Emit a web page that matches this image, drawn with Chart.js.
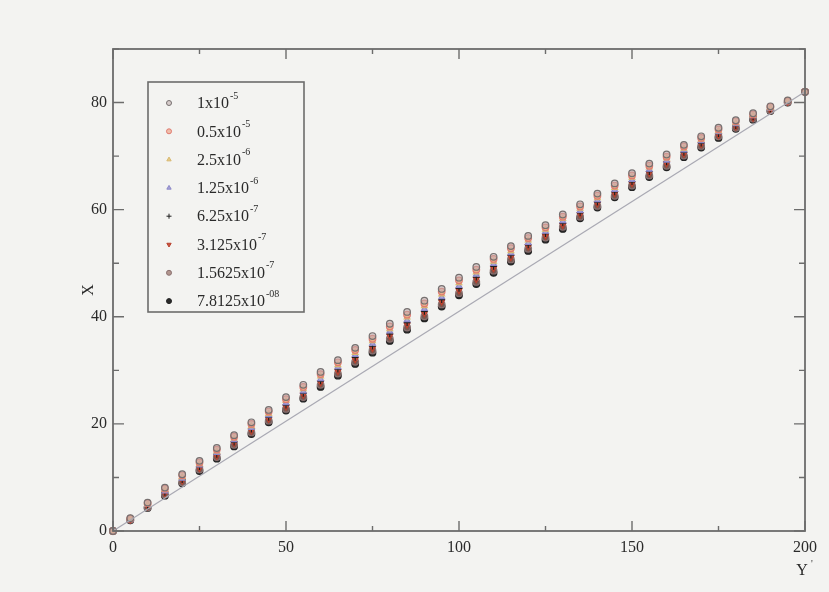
<!DOCTYPE html>
<html>
<head>
<meta charset="utf-8">
<script src="https://cdn.jsdelivr.net/npm/chart.js"></script>
<style>
  body { margin: 0; background: #f3f3f1; }
  #wrap { width: 829px; height: 592px; }
</style>
</head>
<body>
<div id="wrap"><canvas id="chart-convergence" width="829" height="592"></canvas></div>
<script>
// Y' positions shared by every run
const yPrime = [0, 5, 10, 15, 20, 25, 30, 35, 40, 45, 50, 55, 60, 65, 70, 75, 80, 85, 90, 95, 100,
  105, 110, 115, 120, 125, 130, 135, 140, 145, 150, 155, 160, 165, 170, 175, 180, 185, 190, 195, 200];

// X for each time step
const run1e5 = [0, 2.4, 5.3, 8.1, 10.6, 13.1, 15.5, 17.9, 20.3, 22.6, 25.0, 27.3, 29.7, 31.9, 34.2, 36.4, 38.7, 40.9, 43.0, 45.2, 47.3,
  49.3, 51.2, 53.2, 55.1, 57.1, 59.1, 61.0, 63.0, 64.9, 66.8, 68.6, 70.3, 72.1, 73.7, 75.3, 76.7, 78.0, 79.3, 80.4, 82.0];
const run5e6 = [0, 2.3, 5.2, 7.9, 10.4, 12.8, 15.2, 17.6, 20.0, 22.3, 24.6, 26.9, 29.3, 31.5, 33.8, 35.9, 38.2, 40.4, 42.5, 44.7, 46.8,
  48.8, 50.8, 52.8, 54.7, 56.7, 58.7, 60.6, 62.6, 64.5, 66.4, 68.2, 69.9, 71.8, 73.4, 75.0, 76.5, 77.8, 79.2, 80.3, 82.0];
const run25e7 = [0, 2.3, 5.0, 7.7, 10.1, 12.5, 14.9, 17.3, 19.6, 21.9, 24.3, 26.5, 28.9, 31.0, 33.3, 35.5, 37.7, 39.9, 42.0, 44.2, 46.3,
  48.3, 50.3, 52.3, 54.3, 56.3, 58.3, 60.2, 62.2, 64.1, 66.0, 67.9, 69.6, 71.4, 73.1, 74.7, 76.2, 77.6, 79.0, 80.3, 82.0];
const run125e8 = [0, 2.2, 4.9, 7.4, 9.8, 12.3, 14.6, 17.0, 19.3, 21.6, 23.9, 26.1, 28.4, 30.6, 32.9, 35.0, 37.3, 39.4, 41.5, 43.7, 45.8,
  47.9, 49.9, 51.9, 53.8, 55.9, 57.9, 59.8, 61.8, 63.7, 65.6, 67.5, 69.2, 71.1, 72.8, 74.5, 76.0, 77.5, 78.9, 80.2, 82.0];
const run625e9 = [0, 2.2, 4.7, 7.2, 9.6, 12.0, 14.3, 16.6, 19.0, 21.2, 23.5, 25.7, 28.0, 30.2, 32.4, 34.5, 36.8, 38.9, 41.0, 43.2, 45.3,
  47.4, 49.4, 51.5, 53.4, 55.5, 57.5, 59.4, 61.4, 63.3, 65.2, 67.1, 68.9, 70.7, 72.4, 74.2, 75.7, 77.3, 78.8, 80.2, 82.0];
const run3125e10 = [0, 2.1, 4.6, 7.0, 9.4, 11.7, 14.0, 16.4, 18.7, 20.9, 23.2, 25.4, 27.7, 29.8, 32.0, 34.1, 36.4, 38.5, 40.6, 42.8, 44.9,
  47.0, 49.0, 51.1, 53.1, 55.1, 57.1, 59.1, 61.1, 63.0, 64.9, 66.8, 68.6, 70.4, 72.2, 73.9, 75.5, 77.1, 78.6, 80.1, 82.0];
const run15625e11 = [0, 2.1, 4.4, 6.8, 9.1, 11.5, 13.8, 16.1, 18.4, 20.6, 22.8, 25.0, 27.3, 29.4, 31.6, 33.7, 35.9, 38.0, 40.1, 42.3, 44.4,
  46.5, 48.6, 50.7, 52.7, 54.8, 56.8, 58.7, 60.7, 62.6, 64.5, 66.4, 68.2, 70.1, 71.9, 73.7, 75.3, 77.0, 78.5, 80.1, 82.0];
const run78125e12 = [0, 2.0, 4.3, 6.6, 8.9, 11.2, 13.5, 15.8, 18.1, 20.3, 22.5, 24.7, 26.9, 29.0, 31.2, 33.3, 35.5, 37.6, 39.7, 41.9, 44.0,
  46.1, 48.2, 50.3, 52.3, 54.4, 56.4, 58.4, 60.4, 62.3, 64.2, 66.1, 67.9, 69.8, 71.6, 73.4, 75.1, 76.8, 78.4, 80.0, 82.0];

// reference straight line
const refLineX = [0, 200];
const refLineY = [0, 82];

// legend text: mantissa part and exponent
const legendBase = ['1x10', '0.5x10', '2.5x10', '1.25x10', '6.25x10', '3.125x10', '1.5625x10', '7.8125x10'];
const legendExp = ['-5', '-5', '-6', '-6', '-7', '-7', '-7', '-08'];

const xTicks = [0, 50, 100, 150, 200];
const yTicks = [0, 20, 40, 60, 80];

const runs = [run1e5, run5e6, run25e7, run125e8, run625e9, run3125e10, run15625e11, run78125e12];
const styles = [
  { pointStyle: 'circle', radius: 3.3, rotation: 0, border: '#767070', fill: 'rgba(190,170,170,0.55)' },
  { pointStyle: 'circle', radius: 3.3, rotation: 0, border: '#e07a70', fill: 'rgba(238,165,140,0.7)' },
  { pointStyle: 'triangle', radius: 3.3, rotation: 0, border: '#d8b870', fill: '#e6cc88' },
  { pointStyle: 'triangle', radius: 3.3, rotation: 0, border: '#8a86c8', fill: '#a8a4d8' },
  { pointStyle: 'cross', radius: 3.3, rotation: 0, border: '#1e1e1e', fill: '#1e1e1e' },
  { pointStyle: 'triangle', radius: 3.3, rotation: 180, border: '#b8402e', fill: '#c85440' },
  { pointStyle: 'circle', radius: 3.3, rotation: 0, border: '#8a7070', fill: 'rgba(150,110,100,0.7)' },
  { pointStyle: 'circle', radius: 3.3, rotation: 0, border: '#222222', fill: '#2a2a2a' }
];

const SERIF = "'Liberation Serif', 'DejaVu Serif', serif";
const FRAME = '#6c6c6c';

const datasets = [{
  type: 'line',
  label: 'ref',
  data: refLineX.map((x, i) => ({ x: x, y: refLineY[i] })),
  borderColor: '#a9a9b3',
  borderWidth: 1.2,
  pointRadius: 0,
  showLine: true,
  fill: false,
  clip: false
}];
runs.forEach((run, k) => {
  const s = styles[k];
  datasets.push({
    label: legendBase[k] + legendExp[k],
    data: yPrime.map((x, i) => ({ x: x, y: run[i] })),
    pointStyle: s.pointStyle,
    pointRotation: s.rotation,
    pointRadius: s.radius,
    pointBorderWidth: 1.2,
    pointBorderColor: s.border,
    pointBackgroundColor: s.fill,
    showLine: false,
    clip: false
  });
});

// frame, inward ticks, axis titles and the legend box
const decorations = {
  id: 'decorations',
  beforeDraw(chart) {
    const ctx = chart.ctx;
    ctx.save();
    ctx.fillStyle = '#f3f3f1';
    ctx.fillRect(0, 0, chart.width, chart.height);
    ctx.restore();
  },
  afterDraw(chart) {
    const ctx = chart.ctx;
    const a = chart.chartArea;
    const xs = chart.scales.x, ys = chart.scales.y;
    ctx.save();
    ctx.strokeStyle = FRAME;
    ctx.lineWidth = 1.8;
    ctx.strokeRect(a.left, a.top, a.right - a.left, a.bottom - a.top);

    ctx.lineWidth = 1.4;
    ctx.beginPath();
    for (let v = 0; v <= 200; v += 25) {
      const px = xs.getPixelForValue(v);
      const len = v % 50 === 0 ? 10 : 5;
      ctx.moveTo(px, a.bottom); ctx.lineTo(px, a.bottom - len);
      ctx.moveTo(px, a.top); ctx.lineTo(px, a.top + len);
    }
    for (let v = 0; v <= 90; v += 10) {
      const py = ys.getPixelForValue(v);
      const len = v % 20 === 0 ? 11 : 6;
      ctx.moveTo(a.left, py); ctx.lineTo(a.left + len, py);
      ctx.moveTo(a.right, py); ctx.lineTo(a.right - len, py);
    }
    ctx.stroke();

    // axis titles
    ctx.fillStyle = '#2a2a2a';
    ctx.font = '16px ' + SERIF;
    ctx.textAlign = 'center';
    ctx.textBaseline = 'middle';
    ctx.save();
    ctx.translate(a.left - 24, (a.top + a.bottom) / 2);
    ctx.rotate(-Math.PI / 2);
    ctx.fillText('X', 0, 0);
    ctx.restore();
    ctx.fillText('Y', a.right - 3, a.bottom + 40);
    ctx.font = '10px ' + SERIF;
    ctx.fillText("'", a.right + 7, a.bottom + 33);

    // legend
    const lx = 148, ly = 82, lw = 156, lh = 230;
    ctx.fillStyle = '#f3f3f1';
    ctx.fillRect(lx, ly, lw, lh);
    ctx.strokeStyle = FRAME;
    ctx.lineWidth = 1.6;
    ctx.strokeRect(lx, ly, lw, lh);
    legendBase.forEach((base, k) => {
      const y = ly + 21 + k * 28.3;
      const s = styles[k];
      ctx.fillStyle = s.fill;
      ctx.strokeStyle = s.border;
      ctx.lineWidth = 1;
      Chart.helpers.drawPoint(ctx, { pointStyle: s.pointStyle, rotation: s.rotation, radius: 2.5, borderWidth: 1 }, lx + 21, y);
      ctx.fillStyle = '#2a2a2a';
      ctx.textAlign = 'left';
      ctx.textBaseline = 'middle';
      ctx.font = '16px ' + SERIF;
      ctx.fillText(base, lx + 49, y + 1);
      const w = ctx.measureText(base).width;
      ctx.font = '10px ' + SERIF;
      ctx.fillText(legendExp[k], lx + 50 + w, y - 7);
    });
    ctx.restore();
  }
};

new Chart(document.getElementById('chart-convergence').getContext('2d'), {
  type: 'scatter',
  data: { datasets: datasets },
  options: {
    responsive: false,
    animation: false,
    layout: { padding: { top: 49, right: 24, left: 0, bottom: 0 } },
    plugins: { legend: { display: false }, tooltip: { enabled: false } },
    scales: {
      x: {
        type: 'linear',
        min: 0,
        max: 200,
        afterFit: (scale) => { scale.height = 61; },
        afterBuildTicks: (scale) => { scale.ticks = xTicks.map(v => ({ value: v })); },
        grid: { display: false, drawTicks: false },
        border: { display: false },
        ticks: { color: '#2a2a2a', font: { family: SERIF, size: 16 }, padding: 7, maxRotation: 0 }
      },
      y: {
        type: 'linear',
        min: 0,
        max: 90,
        afterFit: (scale) => { scale.width = 113; },
        afterBuildTicks: (scale) => { scale.ticks = yTicks.map(v => ({ value: v })); },
        grid: { display: false, drawTicks: false },
        border: { display: false },
        ticks: { color: '#2a2a2a', font: { family: SERIF, size: 16 }, padding: 6 }
      }
    }
  },
  plugins: [decorations]
});
</script>
</body>
</html>
